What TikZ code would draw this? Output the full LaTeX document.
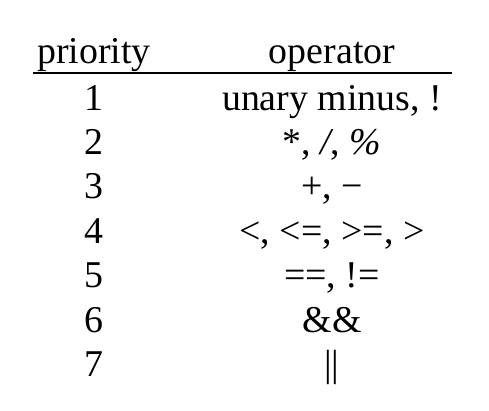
\documentclass[tikz,border=0pt]{standalone}
\usepackage{fontspec}
\setmainfont{Liberation Serif}
\usepackage{tikz}
\usetikzlibrary{positioning}

\begin{document}
\begin{tikzpicture}[x=1bp,y=-1bp,
  cell/.style={font=\fontsize{38}{44}\selectfont, anchor=base, inner sep=0pt}]
\useasboundingbox (0,0) rectangle (489,410);
% header
\node[cell] (prio) at (94,63) {priority};
\node[cell] (oper) at (332,63) {operator};
\coordinate (ruleL) at (33,73);
\coordinate (ruleR) at (452,73);
\draw[line width=1.2bp] (ruleL) -- (ruleR);
% rows
\node[cell] (p1) at (94,110) {1};
\node[cell] (o1) at (332,110) {unary minus, !};
\node[cell] (p2) at (94,154) {2};
\node[cell] (o2) at (332,154) {*, \textit{/}, \textit{\%}};
\node[cell] (p3) at (94,198) {3};
\node[cell] (o3) at (332,198) {+, −};
\node[cell] (p4) at (94,243) {4};
\node[cell] (o4) at (332,243) {<, <=, >=, >};
\node[cell] (p5) at (94,287) {5};
\node[cell] (o5) at (332,287) {==, !=};
\node[cell] (p6) at (94,332) {6};
\node[cell] (o6) at (332,332) {\&\&};
\node[cell] (p7) at (94,376) {7};
\node[cell] (o7) at (332,376) {||};
\end{tikzpicture}
\end{document}
